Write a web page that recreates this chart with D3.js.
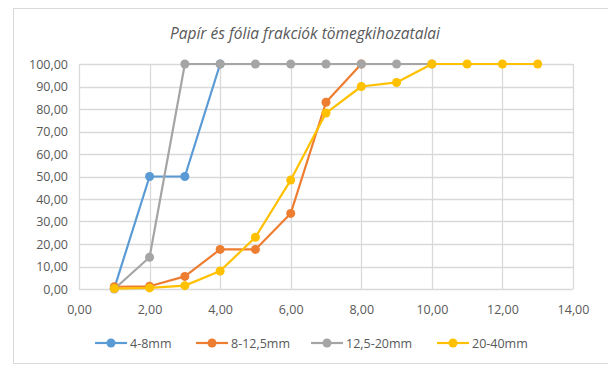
<!DOCTYPE html>
<html>
<head>
<meta charset="utf-8">
<script src="https://cdn.jsdelivr.net/npm/d3@7"></script>
<style>
  html, body { margin: 0; padding: 0; background: #fff; }
  svg { display: block; }
  text { font-family: "Open Sans", Lato, sans-serif; fill: #595959; }
</style>
</head>
<body>
<svg id="chart" width="608" height="365"></svg>
<script>
// Mass recovery (%) of paper and foil fractions per step
const seriesNames = ["4-8mm", "8-12,5mm", "12,5-20mm", "20-40mm"];
const colors = ["#5B9BD5", "#ED7D31", "#A5A5A5", "#FFC000"];

const xBlue = [1, 2, 3, 4];
const yBlue = [0.3, 50, 50, 100];

const xOrange = [1, 2, 3, 4, 5, 6, 7, 8];
const yOrange = [1.0, 1.2, 5.6, 17.6, 17.6, 33.6, 83.0, 100];

const xGray = [1, 2, 3, 4, 5, 6, 7, 8, 9, 10];
const yGray = [0, 14.1, 100, 100, 100, 100, 100, 100, 100, 100];

const xYellow = [1, 2, 3, 4, 5, 6, 7, 8, 9, 10, 11, 12, 13];
const yYellow = [0.2, 0.5, 1.5, 8.0, 23.0, 48.4, 78.2, 90.0, 91.8, 100, 100, 100, 100];

const xTicks = [0, 2, 4, 6, 8, 10, 12, 14];
const yTicks = [0, 10, 20, 30, 40, 50, 60, 70, 80, 90, 100];
const title = "Papír és fólia frakciók tömegkihozatalai";

const allSeries = [
  { name: seriesNames[0], color: colors[0], xs: xBlue, ys: yBlue },
  { name: seriesNames[1], color: colors[1], xs: xOrange, ys: yOrange },
  { name: seriesNames[2], color: colors[2], xs: xGray, ys: yGray },
  { name: seriesNames[3], color: colors[3], xs: xYellow, ys: yYellow }
];

const fmt = v => d3.format(".2f")(v).replace(".", ",");

const svg = d3.select("#chart");
const plot = { left: 79, right: 573, top: 64, bottom: 289 };

const x = d3.scaleLinear().domain([0, 14]).range([plot.left, plot.right]);
const y = d3.scaleLinear().domain([0, 100]).range([plot.bottom, plot.top]);

// outer chart frame
svg.append("rect")
  .attr("x", 13.5).attr("y", 8.5)
  .attr("width", 604).attr("height", 355)
  .attr("fill", "#fff").attr("stroke", "#d9d9d9").attr("stroke-width", 1);

// title
svg.append("text")
  .attr("x", 305).attr("y", 39)
  .attr("text-anchor", "middle")
  .attr("font-style", "italic")
  .attr("font-size", 15.5)
  .text(title);

// gridlines
const grid = svg.append("g");
grid.selectAll("line.h").data(yTicks).join("line")
  .attr("x1", plot.left).attr("x2", plot.right)
  .attr("y1", d => Math.round(y(d)) + 0.5).attr("y2", d => Math.round(y(d)) + 0.5)
  .attr("stroke", "#d9d9d9").attr("stroke-width", 1.3);
grid.selectAll("line.v").data(xTicks).join("line")
  .attr("y1", plot.top).attr("y2", plot.bottom)
  .attr("x1", d => Math.round(x(d)) + 0.5).attr("x2", d => Math.round(x(d)) + 0.5)
  .attr("stroke", "#d9d9d9").attr("stroke-width", 1.3);

// axes (labels only)
const yAxis = svg.append("g")
  .attr("transform", `translate(${plot.left},0)`)
  .call(d3.axisLeft(y).tickValues(yTicks).tickFormat(fmt).tickSize(0).tickPadding(11));
const xAxis = svg.append("g")
  .attr("transform", `translate(0,${plot.bottom})`)
  .call(d3.axisBottom(x).tickValues(xTicks).tickFormat(fmt).tickSize(0).tickPadding(16));
[yAxis, xAxis].forEach(a => {
  a.select(".domain").remove();
  a.selectAll("text").attr("font-size", 12.5).style("fill", "#595959")
    .style("font-family", '"Open Sans", Lato, sans-serif');
});

// series lines and markers
const line = d3.line().x(d => x(d[0])).y(d => y(d[1]));
allSeries.forEach(s => {
  const pts = s.xs.map((v, i) => [v, s.ys[i]]);
  const g = svg.append("g");
  g.append("path").datum(pts)
    .attr("d", line)
    .attr("fill", "none")
    .attr("stroke", s.color)
    .attr("stroke-width", 2.2)
    .attr("stroke-linejoin", "round");
  g.selectAll("circle").data(pts).join("circle")
    .attr("cx", d => x(d[0])).attr("cy", d => y(d[1]))
    .attr("r", 4.5)
    .attr("fill", s.color);
});

// legend
const legendX = [95, 196, 311, 437];
const legend = svg.append("g");
allSeries.forEach((s, i) => {
  const lg = legend.append("g").attr("transform", `translate(${legendX[i]},343)`);
  lg.append("line").attr("x1", 0).attr("x2", 32).attr("y1", 0).attr("y2", 0)
    .attr("stroke", s.color).attr("stroke-width", 2.2);
  lg.append("circle").attr("cx", 16).attr("cy", 0).attr("r", 4.5).attr("fill", s.color);
  lg.append("text").attr("x", 35).attr("y", 4.5).attr("font-size", 12.5).text(s.name);
});
</script>
</body>
</html>
